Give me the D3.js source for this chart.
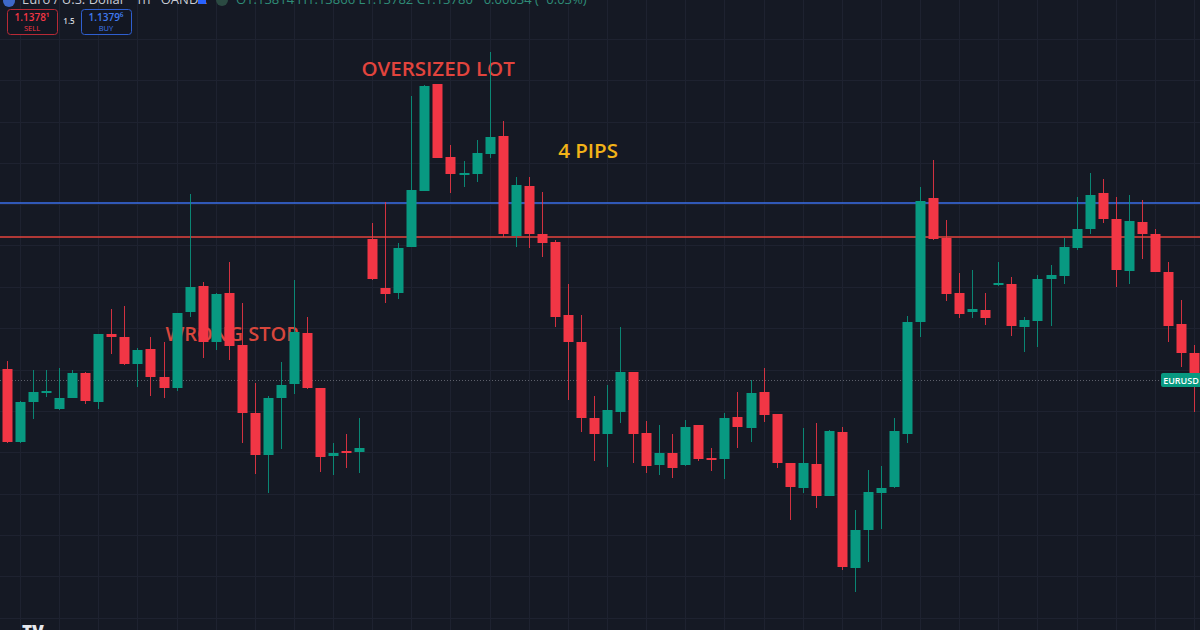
<!DOCTYPE html>
<html>
<head>
<meta charset="utf-8">
<script src="https://cdn.jsdelivr.net/npm/d3@7"></script>
<style>
  html, body { margin: 0; padding: 0; background: #151924; overflow: hidden; }
  svg { display: block; }
</style>
</head>
<body>
<script>
// EURUSD 1h candles (oldest first)
var opens = [1.13631,1.13558,1.13598,1.13608,1.13591,1.13602,1.13627,1.13598,1.13666,1.13663,
  1.13636,1.13651,1.13623,1.13612,1.13688,1.13714,1.13658,1.13707,1.13655,1.13587,
  1.13545,1.13602,1.13616,1.13667,1.13612,1.13544,1.13549,1.13548,1.13761,1.13712,
  1.13707,1.13753,1.13809,1.13916,1.13843,1.13826,1.13826,1.13846,1.13864,1.13764,
  1.13814,1.13766,1.13758,1.13685,1.13658,1.13582,1.13566,1.13588,1.13628,1.13567,
  1.13535,1.13547,1.13535,1.13575,1.13542,1.13541,1.13583,1.13572,1.13608,1.13586,
  1.13537,1.13512,1.13536,1.13504,1.13568,1.13432,1.13470,1.13507,1.13513,1.13566,
  1.13678,1.13802,1.13762,1.13707,1.13688,1.13690,1.13715,1.13716,1.13673,1.13679,
  1.13721,1.13724,1.13752,1.13771,1.13807,1.13781,1.13729,1.13778,1.13766,1.13728,
  1.13676,1.13647];
var highs = [1.13639,1.13599,1.13630,1.13630,1.13632,1.13630,1.13628,1.13666,1.13691,1.13694,
  1.13652,1.13663,1.13658,1.13687,1.13806,1.13718,1.13707,1.13738,1.13697,1.13617,
  1.13604,1.13638,1.13720,1.13683,1.13612,1.13557,1.13566,1.13582,1.13777,1.13798,
  1.13757,1.13904,1.13915,1.13916,1.13855,1.13839,1.13860,1.13948,1.13879,1.13823,
  1.13823,1.13808,1.13760,1.13716,1.13685,1.13604,1.13615,1.13673,1.13628,1.13579,
  1.13575,1.13566,1.13580,1.13575,1.13552,1.13587,1.13608,1.13620,1.13632,1.13586,
  1.13537,1.13572,1.13577,1.13570,1.13573,1.13490,1.13530,1.13534,1.13582,1.13684,
  1.13813,1.13840,1.13780,1.13727,1.13730,1.13707,1.13738,1.13723,1.13683,1.13725,
  1.13735,1.13762,1.13803,1.13827,1.13821,1.13803,1.13805,1.13800,1.13771,1.13738,
  1.13700,1.13655];
var lows = [1.13557,1.13557,1.13581,1.13603,1.13590,1.13602,1.13596,1.13591,1.13646,1.13635,
  1.13613,1.13604,1.13602,1.13609,1.13683,1.13642,1.13650,1.13640,1.13557,1.13526,
  1.13507,1.13551,1.13606,1.13611,1.13528,1.13525,1.13532,1.13527,1.13720,1.13697,
  1.13701,1.13753,1.13809,1.13842,1.13807,1.13813,1.13818,1.13842,1.13763,1.13753,
  1.13752,1.13743,1.13673,1.13600,1.13568,1.13539,1.13533,1.13577,1.13537,1.13527,
  1.13525,1.13522,1.13534,1.13539,1.13529,1.13521,1.13552,1.13558,1.13578,1.13532,
  1.13480,1.13507,1.13492,1.13504,1.13430,1.13408,1.13438,1.13471,1.13512,1.13557,
  1.13663,1.13760,1.13699,1.13682,1.13682,1.13675,1.13714,1.13664,1.13648,1.13653,
  1.13674,1.13716,1.13750,1.13766,1.13777,1.13713,1.13716,1.13741,1.13728,1.13658,
  1.13633,1.13588];
var closes = [1.13558,1.13598,1.13608,1.13609,1.13602,1.13627,1.13599,1.13666,1.13663,1.13636,
  1.13650,1.13623,1.13612,1.13687,1.13713,1.13658,1.13706,1.13654,1.13587,1.13545,
  1.13602,1.13615,1.13668,1.13612,1.13543,1.13547,1.13547,1.13552,1.13721,1.13706,
  1.13752,1.13810,1.13914,1.13842,1.13826,1.13827,1.13847,1.13863,1.13766,1.13815,
  1.13766,1.13757,1.13683,1.13658,1.13582,1.13566,1.13590,1.13628,1.13566,1.13534,
  1.13547,1.13532,1.13573,1.13541,1.13540,1.13582,1.13573,1.13607,1.13585,1.13537,
  1.13513,1.13537,1.13504,1.13569,1.13433,1.13470,1.13508,1.13512,1.13569,1.13678,
  1.13799,1.13761,1.13706,1.13686,1.13691,1.13682,1.13717,1.13674,1.13680,1.13721,
  1.13725,1.13753,1.13771,1.13805,1.13781,1.13730,1.13779,1.13766,1.13728,1.13674,
  1.13647,1.13627];

// horizontal price grid + drawn levels
var gridPrices = [1.13961,1.13920,1.13878,1.13837,1.13796,1.13755,1.13713,1.13672,1.13630,
  1.13589,1.13548,1.13506,1.13465,1.13424,1.13382];
var blueLevel = 1.13797;
var redLevel = 1.13763;
var lastPrice = 1.13620;

var notes = [
  {text: 'OVERSIZED LOT', idx: 33.05, price: 1.13924, size: 20.5, color: '#e2443d'},
  {text: '4 PIPS', idx: 44.55, price: 1.13842, size: 20.5, color: '#f2b318'},
  {text: 'WRONG STOP', idx: 17.25, price: 1.13659, size: 20, color: '#d8463c'}
];

var w = 1200;
var h = 630;
var up = '#089981';
var down = '#f23645';

var candles = opens.map(function(o, i) {
  return {i: i, o: o, h: highs[i], l: lows[i], c: closes[i]};
});

var xScale = d3.scaleLinear()
    .domain([0, candles.length - 1])
    .range([7, 1194]);

var yScale = d3.scaleLinear()
    .domain([1.14000, 1.13370])
    .range([0, h]);

var bodyW = 10;

var svg = d3.select('body')
    .append('svg')
    .attr('width', w)
    .attr('height', h)
    .style('font-family', '"Open Sans", sans-serif');

svg.append('rect')
    .attr('width', w)
    .attr('height', h)
    .attr('fill', '#151924');

// grid
var vTicks = d3.range(1, candles.length, 3);
svg.append('g').selectAll('line')
    .data(vTicks)
    .enter()
    .append('line')
    .attr('x1', d => Math.round(xScale(d)) + 0.5)
    .attr('x2', d => Math.round(xScale(d)) + 0.5)
    .attr('y1', 0)
    .attr('y2', h)
    .attr('stroke', '#1e2230')
    .attr('stroke-width', 1);

svg.append('g').selectAll('line')
    .data(gridPrices)
    .enter()
    .append('line')
    .attr('x1', 0)
    .attr('x2', w)
    .attr('y1', d => Math.round(yScale(d)) + 0.5)
    .attr('y2', d => Math.round(yScale(d)) + 0.5)
    .attr('stroke', '#1e2230')
    .attr('stroke-width', 1);

// last price dotted line
svg.append('line')
    .attr('x1', 0)
    .attr('x2', w)
    .attr('y1', Math.round(yScale(lastPrice)) + 0.5)
    .attr('y2', Math.round(yScale(lastPrice)) + 0.5)
    .attr('stroke', '#5d606b')
    .attr('stroke-width', 1)
    .attr('stroke-dasharray', '1 2');

// the two levels
svg.append('line')
    .attr('x1', 0).attr('x2', w)
    .attr('y1', yScale(blueLevel)).attr('y2', yScale(blueLevel))
    .attr('stroke', '#3a6ee8')
    .attr('stroke-width', 1.6);

svg.append('line')
    .attr('x1', 0).attr('x2', w)
    .attr('y1', yScale(redLevel)).attr('y2', yScale(redLevel))
    .attr('stroke', '#e5433c')
    .attr('stroke-width', 1.6);

// annotations (under the candles)
svg.append('g').selectAll('text')
    .data(notes)
    .enter()
    .append('text')
    .attr('x', d => xScale(d.idx))
    .attr('y', d => yScale(d.price))
    .attr('text-anchor', 'middle')
    .attr('font-size', d => d.size + 'px')
    .attr('font-weight', 600)
    .attr('fill', d => d.color)
    .text(d => d.text);

// candles
var g = svg.append('g');

g.selectAll('line.wick')
    .data(candles)
    .enter()
    .append('line')
    .attr('class', 'wick')
    .attr('x1', d => Math.round(xScale(d.i)) + 0.5)
    .attr('x2', d => Math.round(xScale(d.i)) + 0.5)
    .attr('y1', d => yScale(d.h))
    .attr('y2', d => yScale(d.l))
    .attr('stroke', d => d.c >= d.o ? up : down)
    .attr('stroke-opacity', 0.85)
    .attr('stroke-width', 1);

g.selectAll('rect.body')
    .data(candles)
    .enter()
    .append('rect')
    .attr('class', 'body')
    .attr('x', d => Math.round(xScale(d.i)) - bodyW / 2 + 0.5)
    .attr('width', bodyW)
    .attr('y', d => yScale(Math.max(d.o, d.c)))
    .attr('height', d => Math.max(2, yScale(Math.min(d.o, d.c)) - yScale(Math.max(d.o, d.c))))
    .attr('fill', d => d.c >= d.o ? up : down);

// symbol label on the right edge
var ly = yScale(lastPrice);
svg.append('rect')
    .attr('x', 1161)
    .attr('y', ly - 7)
    .attr('width', 42)
    .attr('height', 14)
    .attr('rx', 2)
    .attr('fill', up);
svg.append('text')
    .attr('x', 1181)
    .attr('y', ly + 3.5)
    .attr('text-anchor', 'middle')
    .attr('font-size', '9px')
    .attr('font-weight', 600)
    .attr('fill', '#ffffff')
    .text('EURUSD');

// header (cut off at the top)
var head = svg.append('g');
head.append('circle').attr('cx', 9).attr('cy', 1).attr('r', 6).attr('fill', '#3d68c8');
head.append('text')
    .attr('x', 22).attr('y', 4)
    .attr('font-size', '13px')
    .attr('fill', '#c9ccd4')
    .text('Euro / U.S. Dollar · 1h · OANDA');
head.append('rect').attr('x', 198).attr('y', -4).attr('width', 8).attr('height', 8).attr('rx', 1).attr('fill', '#2962ff');
head.append('circle').attr('cx', 222).attr('cy', 0).attr('r', 6).attr('fill', '#2b4a42');
head.append('text')
    .attr('x', 236).attr('y', 4)
    .attr('font-size', '13px')
    .attr('fill', '#2f8d78')
    .text('O1.13814 H1.13866 L1.13782 C1.13780 −0.00034 (−0.03%)');

// sell / buy boxes
var boxes = [
  {x: 7, color: '#f23645', stroke: '#b82a36', price: '1.1378', sup: '1', label: 'SELL'},
  {x: 81, color: '#3f7af0', stroke: '#2f5fd0', price: '1.1379', sup: '6', label: 'BUY'}
];
var bg = head.selectAll('g.box')
    .data(boxes)
    .enter()
    .append('g')
    .attr('class', 'box');
bg.append('rect')
    .attr('x', d => d.x + 0.5)
    .attr('y', 9.5)
    .attr('width', 50)
    .attr('height', 25)
    .attr('rx', 3)
    .attr('fill', '#131722')
    .attr('stroke', d => d.stroke);
bg.append('text')
    .attr('x', d => d.x + 25)
    .attr('y', 20.5)
    .attr('text-anchor', 'middle')
    .attr('font-size', '10px')
    .attr('font-weight', 600)
    .attr('fill', d => d.color)
    .text(d => d.price + d.sup.replace('1', '¹').replace('6', '⁶'));
bg.append('text')
    .attr('x', d => d.x + 25)
    .attr('y', 31)
    .attr('text-anchor', 'middle')
    .attr('font-size', '7.5px')
    .attr('fill', d => d.color)
    .text(d => d.label);
head.append('text')
    .attr('x', 69).attr('y', 24)
    .attr('text-anchor', 'middle')
    .attr('font-size', '8px')
    .attr('font-weight', 600)
    .attr('fill', '#d1d4dc')
    .text('1.5');

// tv logo, bottom left
svg.append('text')
    .attr('x', 22).attr('y', 638)
    .attr('font-size', '17px')
    .attr('font-weight', 800)
    .attr('fill', '#e6e8ee')
    .text('TV');
</script>
</body>
</html>
